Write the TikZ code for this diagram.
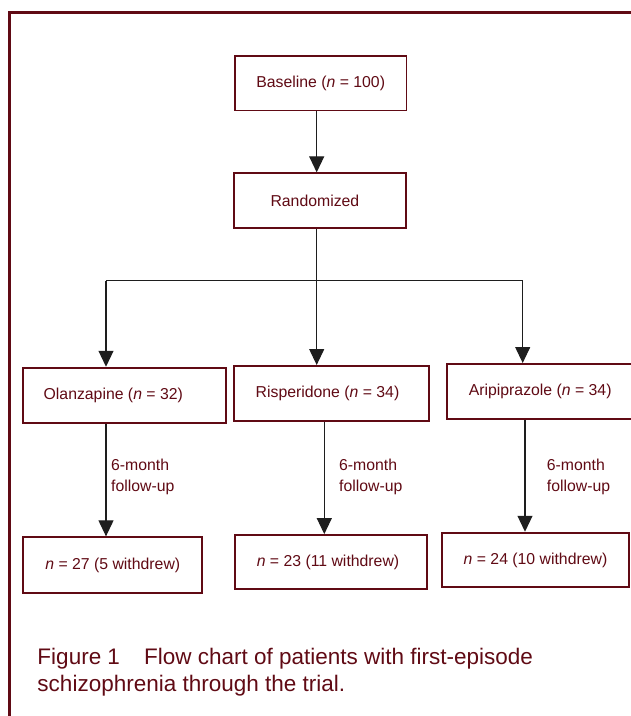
\documentclass[tikz,border=0pt]{standalone}
\usepackage{fontspec}
\setmainfont{Liberation Sans}
\usetikzlibrary{arrows.meta}
\definecolor{figred}{RGB}{96,10,20}
\definecolor{arrgray}{RGB}{30,30,30}
\newcommand{\bxfont}{\fontsize{15.8}{21}\selectfont}
\newcommand{\capfont}{\fontsize{22.5}{27}\selectfont}
\begin{document}
\begin{tikzpicture}[x=1pt,y=-1pt,
  box/.style={draw=figred, line width=1.9pt, text=figred, font=\bxfont, inner sep=0pt, fill=white},
  arr/.style={draw=arrgray, line width=1.1pt, -{Triangle[width=15pt,length=16pt]}},
  ln/.style={draw=arrgray, line width=1.1pt},
  lbl/.style={text=figred, font=\bxfont, align=left, anchor=west, inner sep=0pt},
  captxt/.style={text=figred, font=\capfont, anchor=base west, inner sep=0pt}]
\useasboundingbox (0,0) rectangle (631,716);
\clip (0,0) rectangle (631,716);
% outer frame
\draw[figred, line width=2.6pt] (9.7,740) -- (9.7,12.6) -- (660,12.6);
% boxes
\node[box, minimum width=171.5pt, minimum height=54.5pt] (base) at (320.7,83.2) {Baseline (\textit{n} = 100)};
\node[box, minimum width=171.7pt, minimum height=54.4pt] (rand) at (319.9,200.5) {\hspace*{-10pt}Randomized};
\node[box, minimum width=203pt, minimum height=55pt] (olz) at (124.5,395.2) {\hspace*{-22.4pt}Olanzapine (\textit{n} = 32)};
\node[box, minimum width=195.3pt, minimum height=54.7pt] (ris) at (331.7,393.3) {\hspace*{-8.4pt}Risperidone (\textit{n} = 34)};
\node[box, minimum width=185.7pt, minimum height=54.7pt] (ari) at (540.2,391.3) {Aripiprazole (\textit{n} = 34)};
\node[box, minimum width=179pt, minimum height=55.4pt] (olzf) at (112.8,565) {\textit{n} = 27 (5 withdrew)};
\node[box, minimum width=191.4pt, minimum height=54.3pt] (risf) at (331,562.2) {\hspace*{-6pt}\textit{n} = 23 (11 withdrew)};
\node[box, minimum width=187pt, minimum height=54.6pt] (arif) at (535.5,560) {\textit{n} = 24 (10 withdrew)};
% connector coordinates
\coordinate (cx) at (316.7,280.7);
\coordinate (hl) at (106,280.7);
\coordinate (hr) at (522.7,280.7);
\coordinate (fo) at (106,0);
\coordinate (fr) at (324.3,0);
\coordinate (fa) at (525,0);
% connectors
\draw[arr] (cx |- base.south) -- (cx |- rand.north);
\draw[ln] (cx |- rand.south) -- (cx);
\draw[ln] (hl) -- (hr);
\draw[arr] (hl) -- (hl |- olz.north);
\draw[arr] (cx) -- (cx |- ris.north);
\draw[arr] (hr) -- (hr |- ari.north);
\draw[arr] (fo |- olz.south) -- (fo |- olzf.north);
\draw[arr] (fr |- ris.south) -- (fr |- risf.north);
\draw[arr] (fa |- ari.south) -- (fa |- arif.north);
% labels
\node[lbl] (l1) at (111,477) {6-month\\follow-up};
\node[lbl] (l2) at (339,477) {6-month\\follow-up};
\node[lbl] (l3) at (546.7,477) {6-month\\follow-up};
% caption
\node[captxt] (cap1) at (37.3,664.3) {Figure 1\hspace{24pt}Flow chart of patients with first-episode};
\node[captxt] (cap2) at (37.3,691) {schizophrenia through the trial.};
\end{tikzpicture}
\end{document}
